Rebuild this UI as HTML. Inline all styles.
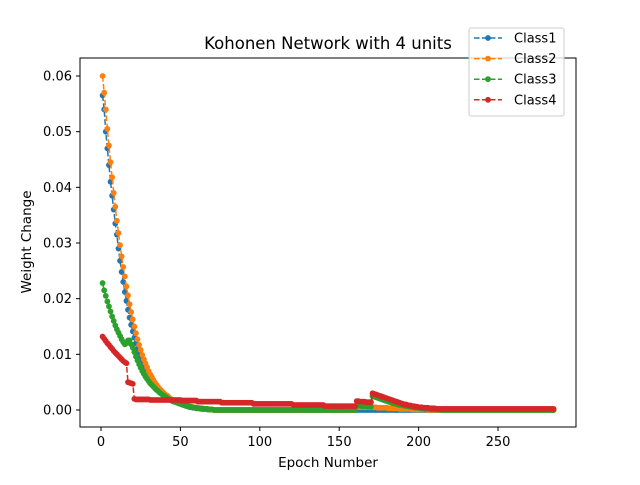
<!DOCTYPE html>
<html><head><meta charset="utf-8"><style>
body{margin:0;background:#fff;}
svg text{font-family:"DejaVu Sans","Liberation Sans",sans-serif;fill:#000;}
</style></head><body>
<svg id="chart" width="640" height="480" viewBox="0 0 640 480">
<rect x="0" y="0" width="640" height="480" fill="#fff"/>
<g id="plot"></g>
<rect x="80" y="58" width="496" height="369" fill="none" stroke="#000" stroke-width="1"/>
<g id="ticks"></g>
<text x="328" y="49" text-anchor="middle" font-size="16.5">Kohonen Network with 4 units</text>
<text x="328" y="467" text-anchor="middle" font-size="13.5">Epoch Number</text>
<text transform="translate(31,242) rotate(-90)" text-anchor="middle" font-size="13.5">Weight Change</text>
<g id="legend"></g>
</svg>
<script>
// values in units of 1e-4, epochs 1..285
const blue = [565,540,500,470,440,410,385,360,335,315,290,268,248,230,212,196,180,166,153,141,130,120,110,101,93,86,79,72,66,61,56,51,47,43,40,37,34,31,28,26,24,22,20,18,16,15,14,13,12,11,
10,9,8,7,6,5,5,4,4,3, 3,3,2,2,2,2,1,1,1,1].concat(
[0,0,0,0,0,0,0,0,0,0,0,0,0,0,0,0,0,0,0,0,0,0,0,0,0,0,0,0,0,0,0,0,0,0,0,0,0,0,0,0,0,0,0,0,0,0,0,0,0,0,
0,0,0,0,0,0,0,0,0,0,0,0,0,0,0,0,0,0,0,0,0,0,0,0,0,0,0,0,0,0,0,0,0,0,0,0,0,0,0,0,0,0,0,0,0,0,0,0,0,0,
0,0,0,0,0,0,0,0,0,0,0,0,0,0,0,0,0,0,0,0,0,0,0,0,0,0,0,0,0,0,0,0,0,0,0,0,0,0,0,0,0,0,0,0,0,0,0,0,0,0,
0,0,0,0,0,0,0,0,0,0,0,0,0,0,0,0,0,0,0,0,0,0,0,0,0,0,0,0,0,0,0,0,0,0,0,0,0,0,0,0,0,0,0,0,0,0,0,0,0,0,
0,0,0,0,0,0,0,0,0,0,0,0,0,0,0]);
const orange = [600,570,540,505,475,445,418,390,365,340,318,296,276,257,240,222,206,190,176,163,150,138,127,117,108,99,91,84,77,70,64,59,54,49,45,41,38,35,32,29,27,25,22,20,18,17,15,14,13,12,
11,10,9,8,7,6,6,5,5,4, 4,3,3,3,2,2,2,1,1,1].concat(
[0,0,0,0,0,0,0,0,0,0,0,0,0,0,0,0,0,0,0,0,0,0,0,0,0,0,0,0,0,0,0,0,0,0,0,0,0,0,0,0,0,0,0,0,0,
0,0,0,0,0,0,0,0,0,0,0,0,0,0,0,0,0,0,0,0,0,0,0,0,0,0,0,0,0,0,0,0,0,0,0,0,0,0,0,0,0,0,0,0,0],
[5,5,5,5,5,5,5,5,5,5],
[5,5,5,4,4,4,4,4,4,4,3,3,3,3,3,3,3,2,2,2,2,2,2,2,2,1,1,1,1,1,1,1,1,1,1],
[0,0,0,0,0,0,0,0,0,0,0,0,0,0,0,0,0,0,0,0,0,0,0,0,0,0,0,0,0,0,0,0,0,0,0,0,0,0,0,0,
0,0,0,0,0,0,0,0,0,0,0,0,0,0,0,0,0,0,0,0,0,0,0,0,0,0,0,0,0,0,0,0,0,0,0,0,0,0,0,0]);
const green = [228,215,205,195,186,177,168,160,152,145,139,133,127,122,118,120,125,125,118,112,104,96,89,82,76,70,65,60,56,52,48,45,42,39,36,34,31,29,27,25,23,21,19,18,16,15,14,13,12,11,
10,9,8,7,7,6,5,5,4,4, 3,3,3,2,2,2,2,1,1,1].concat(
[0,0,0,0,0,0,0,0,0,0,0,0,0,0,0,0,0,0,0,0,0,0,0,0,0,0,0,0,0,0,0,0,0,0,0,0,0,0,0,0,0,0,0,0,0,
0,0,0,0,0,0,0,0,0,0,0,0,0,0,0,0,0,0,0,0,0,0,0,0,0,0,0,0,0,0,0,0,0,0,0,0,0,0,0,0,0,0,0,0,0],
[8,8,8,7,7,7,7,6,6,6],
[25,24,23,22,21,20,19,18,17,16,15,14,13,12,12,11,10,9,9,8,8,7,7,6,6,5,5,4,4,4,3,3,3,2,2,2,2,1,1,1,1,1,1],
[0,0,0,0,0,0,0,0,0,0,0,0,0,0,0,0,0,0,0,0,0,0,0,0,0,0,0,0,0,0,0,0,0,0,0,0,
0,0,0,0,0,0,0,0,0,0,0,0,0,0,0,0,0,0,0,0,0,0,0,0,0,0,0,0,0,0,0,0,0,0,0,0]);
const red = [132,128,124,120,117,113,110,106,103,100,97,94,91,88,86,84,50,49,48,47,20].concat(
[19,19,19,19,19,19,19,19,19],
[18,18,18,18,18,18,18,18,18,18,18,18,18,18,18,18,18,18,18,18],
[17,17,17,17,17,17,17,17,17,17],
[15,15,15,15,15,15,15,15,15,15,15,15,15,15,15],
[13,13,13,13,13,13,13,13,13,13,13,13,13,13,13,13,13,13,13,13],
[11,11,11,11,11,11,11,11,11,11,11,11,11,11,11,11,11,11,11,11,11,11,11,11,11],
[9,9,9,9,9,9,9,9,9,9,9,9,9,9,9,9,9,9,9,9],
[7,7,7,7,7,7,7,7,7,7,7,7,7,7,7,7,7,7,7,7],
[16,16,15,15,15,15,14,14,14,14],
[30,29,28,27,26,25,24,23,22,21,20,19,18,17,16,15,14,13,12,11,10,10,9,8,8,7,7,6,6,5,5,5,4,4,4,4,3,3,3,3],
[2,2,2,2,2,2,2,2,2,2,2,2,2,2,2,2,2,2,2,2,2,2,2,2,2,2,2,2,2,2,2,2,2,2,2,2,2,2,
2,2,2,2,2,2,2,2,2,2,2,2,2,2,2,2,2,2,2,2,2,2,2,2,2,2,2,2,2,2,2,2,2,2,2,2,2]);
const seriesNames = ["Class1","Class2","Class3","Class4"];
const xTicks = [0,50,100,150,200,250];
const yTicks = [0,0.01,0.02,0.03,0.04,0.05,0.06];
const yTickLabels = ["0.00","0.01","0.02","0.03","0.04","0.05","0.06"];

const NS="http://www.w3.org/2000/svg";
function xs(v){return 101 + v*(498-101)/250;}
function ys(v){return 410 - v*(410-76)/0.06;}
const colors=["#1f77b4","#ff7f0e","#2ca02c","#d62728"];
const allSeries=[blue,orange,green,red];
const plot=document.getElementById('plot');
allSeries.forEach((s,si)=>{
  const g=document.createElementNS(NS,'g');
  
  
  let d='';
  s.forEach((v,i)=>{d+=(i?'L':'M')+xs(i+1).toFixed(2)+','+ys(v*1e-4).toFixed(2);});
  const p=document.createElementNS(NS,'path');
  p.setAttribute('d',d);p.setAttribute('fill','none');p.setAttribute('stroke',colors[si]);
  p.setAttribute('stroke-width','1.5');p.setAttribute('stroke-dasharray','5.55,2.4');
  
  
  g.appendChild(p);
  s.forEach((v,i)=>{
    const c=document.createElementNS(NS,'circle');
    c.setAttribute('cx',xs(i+1).toFixed(2));c.setAttribute('cy',ys(v*1e-4).toFixed(2));
    c.setAttribute('r','2.9');c.setAttribute('fill',colors[si]);
    
    
    g.appendChild(c);
  });
  plot.appendChild(g);
});
const ticks=document.getElementById('ticks');
xTicks.forEach(t=>{
  const l=document.createElementNS(NS,'line');
  l.setAttribute('x1',xs(t));l.setAttribute('x2',xs(t));l.setAttribute('y1',427);l.setAttribute('y2',431);l.setAttribute('stroke','#000');
  
  
  ticks.appendChild(l);
  const tx=document.createElementNS(NS,'text');
  tx.setAttribute('x',xs(t));tx.setAttribute('y',446);tx.setAttribute('text-anchor','middle');tx.setAttribute('font-size','13');
  tx.textContent=t;
  
  
  ticks.appendChild(tx);
});
yTicks.forEach((t,i)=>{
  const l=document.createElementNS(NS,'line');
  l.setAttribute('x1',76);l.setAttribute('x2',80);l.setAttribute('y1',ys(t));l.setAttribute('y2',ys(t));l.setAttribute('stroke','#000');
  
  
  ticks.appendChild(l);
  const tx=document.createElementNS(NS,'text');
  tx.setAttribute('x',72);tx.setAttribute('y',ys(t)+4.5);tx.setAttribute('text-anchor','end');tx.setAttribute('font-size','13');
  tx.textContent=yTickLabels[i];
  
  
  ticks.appendChild(tx);
});
const lg=document.getElementById('legend');
const box=document.createElementNS(NS,'rect');
box.setAttribute('x',469);box.setAttribute('y',28);box.setAttribute('width',95);box.setAttribute('height',88);box.setAttribute('rx',2);
box.setAttribute('fill','rgba(255,255,255,0.8)');box.setAttribute('stroke','#ccc');


lg.appendChild(box);
seriesNames.forEach((n,i)=>{
  const y=38+i*20.6;
  const g=document.createElementNS(NS,'g');
  
  
  const l=document.createElementNS(NS,'line');
  l.setAttribute('x1',474);l.setAttribute('x2',502);l.setAttribute('y1',y);l.setAttribute('y2',y);
  l.setAttribute('stroke',colors[i]);l.setAttribute('stroke-width',1.5);l.setAttribute('stroke-dasharray','5.55,2.4');
  g.appendChild(l);
  const c=document.createElementNS(NS,'circle');
  c.setAttribute('cx',488);c.setAttribute('cy',y);c.setAttribute('r',2.9);c.setAttribute('fill',colors[i]);
  g.appendChild(c);
  const t=document.createElementNS(NS,'text');
  t.setAttribute('x',514);t.setAttribute('y',y+4.5);t.setAttribute('font-size','13');t.textContent=n;
  g.appendChild(t);
  lg.appendChild(g);
});
</script>
</body></html>
